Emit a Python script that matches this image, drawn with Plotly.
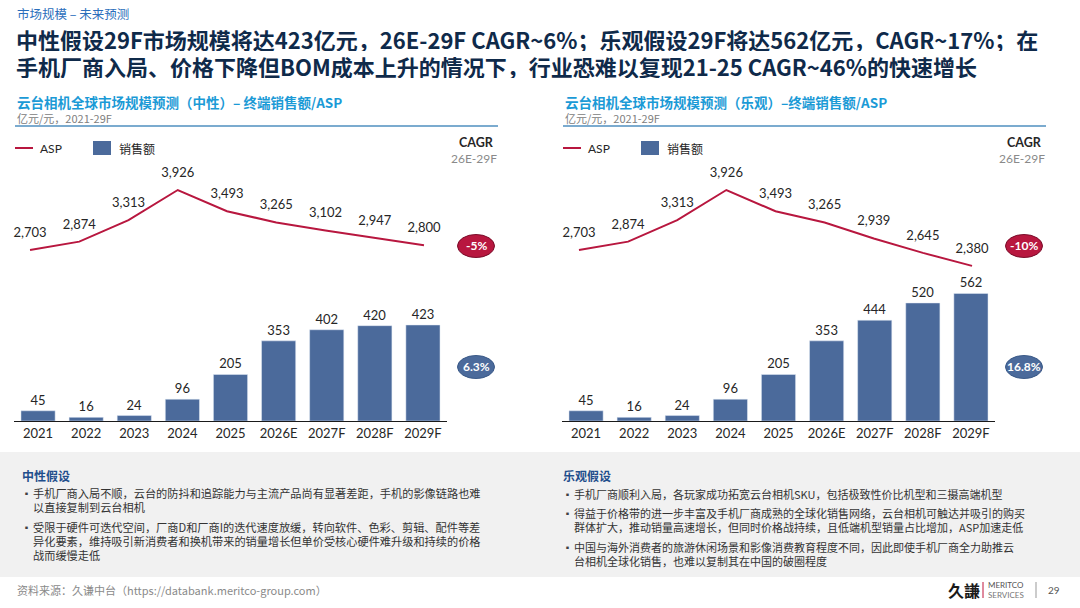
import plotly.graph_objects as go

W, H = 1080, 608
def X(px): return px / W
def Y(py): return 1 - py / H

years = ["2021", "2022", "2023", "2024", "2025", "2026E", "2027F", "2028F", "2029F"]
sales_neutral = [45, 16, 24, 96, 205, 353, 402, 420, 423]
asp_neutral = [2703, 2874, 3313, 3926, 3493, 3265, 3102, 2947, 2800]
sales_optim = [45, 16, 24, 96, 205, 353, 444, 520, 562]
asp_optim = [2703, 2874, 3313, 3926, 3493, 3265, 2939, 2645, 2380]
cagr_neutral = ["-5%", "6.3%"]
cagr_optim = ["-10%", "16.8%"]

BAR = "#4b6a9b"
RED = "#b8173f"
TXT = "#262626"
FONT = "Lato, Noto Sans CJK SC, sans-serif"
CJK = "Noto Sans CJK SC, sans-serif"

fig = go.Figure()

def fmt(v):
    return f"{v:,}"

def add_chart(sales, asp, xb, yb, xl, yl):
    fig.add_trace(go.Bar(x=years, y=sales, xaxis=xb, yaxis=yb, marker_color=BAR,
                         text=[fmt(v) for v in sales], textposition="outside",
                         textfont=dict(size=13, color=TXT, family=FONT), cliponaxis=False,
                         width=0.71, showlegend=False, hoverinfo="skip"))
    fig.add_trace(go.Scatter(x=years, y=asp, xaxis=xl, yaxis=yl, mode="lines+markers+text",
                             line=dict(color=RED, width=2),
                             marker=dict(size=14, color="rgba(0,0,0,0)"),
                             text=[fmt(v) for v in asp],
                             textposition="top center", textfont=dict(size=13, color=TXT, family=FONT),
                             cliponaxis=False, showlegend=False, hoverinfo="skip"))

add_chart(sales_neutral, asp_neutral, "x", "y", "x3", "y2")
add_chart(sales_optim, asp_optim, "x2", "y3", "x4", "y4")

ydom = [Y(421), Y(170)]
bar_range = [0, 251 / 0.2270]
line_range = [-782, 4334]
xr = [-0.5, 8.5]

xcommon = dict(showgrid=False, zeroline=False, ticks="", fixedrange=True, range=xr, autorange=False)
fig.update_layout(
    width=W, height=H, margin=dict(l=0, r=0, t=0, b=0),
    paper_bgcolor="white", plot_bgcolor="rgba(0,0,0,0)",
    font=dict(family=FONT, color=TXT),
    xaxis=dict(domain=[X(14), X(447)], anchor="y", showline=True, linecolor="#1a1a1a", linewidth=1.3,
               tickfont=dict(size=13, color=TXT, family=FONT), **xcommon),
    xaxis3=dict(domain=[X(5.4), X(448.6)], anchor="y2", visible=False, **xcommon),
    xaxis2=dict(domain=[X(562), X(995)], anchor="y3", showline=True, linecolor="#1a1a1a", linewidth=1.3,
                tickfont=dict(size=13, color=TXT, family=FONT), **xcommon),
    xaxis4=dict(domain=[X(554.4), X(996.6)], anchor="y4", visible=False, **xcommon),
    yaxis=dict(domain=ydom, range=bar_range, visible=False, anchor="x", fixedrange=True),
    yaxis2=dict(domain=ydom, range=line_range, visible=False, anchor="x3", fixedrange=True),
    yaxis3=dict(domain=ydom, range=bar_range, visible=False, anchor="x2", fixedrange=True),
    yaxis4=dict(domain=ydom, range=line_range, visible=False, anchor="x4", fixedrange=True),
)

shapes = []
ann = []

def text(px, py, s, size=12, color=TXT, bold=False, anchor="left", family=CJK, height=None):
    if bold:
        s = f"<b>{s}</b>"
    a = dict(x=X(px), y=Y(py), xref="paper", yref="paper", text=s, showarrow=False,
             xanchor=anchor, yanchor="middle", align="left", valign="middle",
             font=dict(size=size, color=color, family=family))
    if height:
        a["height"] = height
    ann.append(a)

# Bottom gray band
shapes.append(dict(type="rect", xref="paper", yref="paper", x0=0, x1=1, y0=Y(577), y1=Y(452),
                   fillcolor="#f1f1f1", line=dict(width=0), layer="below"))

# Header
text(15, 14, "市场规模 – 未来预测", size=12.5, color="#2a6ebb")
text(14, 38.5, "中性假设29F市场规模将达423亿元，26E-29F CAGR~6%；乐观假设29F将达562亿元，CAGR~17%；在",
     size=22, color="#0f2a4a", bold=True, height=25)
text(14, 65, "手机厂商入局、价格下降但BOM成本上升的情况下，行业恐难以复现21-25 CAGR~46%的快速增长",
     size=22, color="#0f2a4a", bold=True, height=25)

def chart_header(x0, x1, title, badges):
    text(x0, 102, title, size=13.5, color="#1b9ad6", bold=True)
    text(x0, 118, "亿元/元，2021-29F", size=11, color="#808080")
    shapes.append(dict(type="line", xref="paper", yref="paper", x0=X(x0), x1=X(x1), y0=Y(126), y1=Y(126),
                       line=dict(color="#4f8fbf", width=1.5)))
    # legend
    shapes.append(dict(type="line", xref="paper", yref="paper", x0=X(x0), x1=X(x0 + 18), y0=Y(148), y1=Y(148),
                       line=dict(color=RED, width=2)))
    text(x0 + 23, 148, "ASP", size=12, color=TXT, family=FONT)
    shapes.append(dict(type="rect", xref="paper", yref="paper", x0=X(x0 + 78), x1=X(x0 + 96),
                       y0=Y(155), y1=Y(141), fillcolor=BAR, line=dict(width=0)))
    text(x0 + 102, 148, "销售额", size=12, color=TXT)
    # CAGR label
    cx = x1 - 22
    text(cx, 142, "CAGR", size=12.5, color=TXT, bold=True, anchor="center", family=FONT)
    text(cx - 2, 158, "26E-29F", size=12, color="#8a8a8a", anchor="center", family=FONT)
    # badges
    for (label, cy, fill, edge) in [(badges[0], 246, RED, "#7a0f2b"), (badges[1], 367, BAR, "#3b5a88")]:
        bx = x1 - 22
        shapes.append(dict(type="circle", xref="paper", yref="paper", x0=X(bx - 18.5), x1=X(bx + 18.5),
                           y0=Y(cy + 11.5), y1=Y(cy - 11.5), fillcolor=fill, line=dict(color=edge, width=1)))
        text(bx, cy, label, size=12, color="white", bold=True, anchor="center", family=FONT)

chart_header(15, 498, "云台相机全球市场规模预测（中性）– 终端销售额/ASP", cagr_neutral)
chart_header(563, 1046, "云台相机全球市场规模预测（乐观）–终端销售额/ASP", cagr_optim)

# Bottom assumption boxes
text(20, 475, "中性假设", size=12, color="#1f4e8c", bold=True)
left_lines = [
    (493, True, "手机厂商入局不顺，云台的防抖和追踪能力与主流产品尚有显著差距，手机的影像链路也难"),
    (507, False, "以直接复制到云台相机"),
    (527, True, "受限于硬件可迭代空间，厂商D和厂商I的迭代速度放缓，转向软件、色彩、剪辑、配件等差"),
    (541, False, "异化要素，维持吸引新消费者和换机带来的销量增长但单价受核心硬件难升级和持续的价格"),
    (555, False, "战而缓慢走低"),
]
for py, bullet, s in left_lines:
    if bullet:
        text(20, py, "▪", size=9, color="#404040")
    text(31, py, s, size=11.2, color="#333333")

text(561, 475, "乐观假设", size=12, color="#1f4e8c", bold=True)
right_lines = [
    (494, True, "手机厂商顺利入局，各玩家成功拓宽云台相机SKU，包括极致性价比机型和三摄高端机型"),
    (513, True, "得益于价格带的进一步丰富及手机厂商成熟的全球化销售网络，云台相机可触达并吸引的购买"),
    (527, False, "群体扩大，推动销量高速增长，但同时价格战持续，且低端机型销量占比增加，ASP加速走低"),
    (547, True, "中国与海外消费者的旅游休闲场景和影像消费教育程度不同，因此即使手机厂商全力助推云"),
    (561, False, "台相机全球化销售，也难以复制其在中国的破圈程度"),
]
for py, bullet, s in right_lines:
    if bullet:
        text(561, py, "▪", size=9, color="#404040")
    text(572, py, s, size=11, color="#333333")

# Footer
text(15, 590, "资料来源：久谦中台（https://databank.meritco-group.com）", size=11, color="#8a8a8a")
text(946, 590, "久謙", size=16, color="#1a1a1a", bold=True)
shapes.append(dict(type="line", xref="paper", yref="paper", x0=X(983), x1=X(983), y0=Y(598), y1=Y(582),
                   line=dict(color="#c0143c", width=1)))
text(986, 585, "MERITCO", size=8, color="#555555", family=FONT)
text(986, 595, "SERVICES", size=8, color="#777777", family=FONT)
shapes.append(dict(type="line", xref="paper", yref="paper", x0=X(1036), x1=X(1036), y0=Y(598), y1=Y(582),
                   line=dict(color="#999999", width=1)))
text(1046, 590, "29", size=10, color="#555555", family=FONT)

fig.update_layout(shapes=shapes, annotations=ann)
fig.write_html("out.html", config={"displayModeBar": False, "staticPlot": True},
               post_script="document.body.style.margin='0';document.body.style.overflow='hidden';")
